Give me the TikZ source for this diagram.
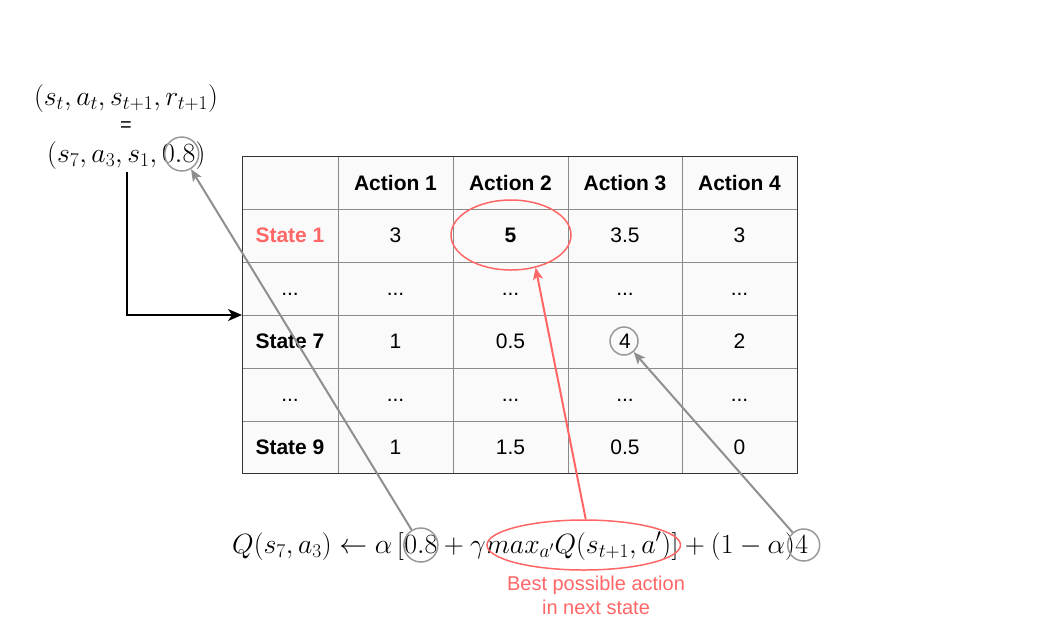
\RequirePackage{fix-cm}
\documentclass[tikz,border=0pt]{standalone}
\usepackage{fontspec}
\setsansfont{Liberation Sans}
\usetikzlibrary{shapes.geometric,arrows.meta,calc}
\definecolor{redc}{HTML}{FF6666}
\definecolor{grayl}{HTML}{8F8F8F}
\definecolor{grayc}{HTML}{999999}
\definecolor{tabfill}{HTML}{FAFAFA}
\definecolor{gridc}{HTML}{8A8A8A}
\definecolor{outerc}{HTML}{333333}
\begin{document}
\begin{tikzpicture}[x=1pt,y=-1pt,
  cell/.style={font=\fontsize{21}{25}\selectfont\sffamily, inner sep=0, anchor=base},
  hcell/.style={cell, font=\fontsize{21}{25}\selectfont\sffamily\bfseries},
  mth/.style={inner sep=0, font=\fontsize{27.8}{32}\selectfont, anchor=base west},
  gcirc/.style={circle, draw=grayc, line width=1.5pt, minimum size=#1, inner sep=0},
  rell/.style={ellipse, draw=redc, line width=1.5pt, inner sep=0},
  garrow/.style={draw=grayl, line width=2pt, -{Stealth[length=12pt,width=10pt,inset=3pt]}},
  rarrow/.style={draw=redc, line width=2pt, -{Stealth[length=12pt,width=10pt,inset=3pt]}},
  barrow/.style={draw=black, line width=2pt, -{Stealth[length=14pt,width=12pt,inset=4pt]}},
  redtext/.style={font=\fontsize{20}{24}\selectfont\sffamily, text=redc, align=center, inner sep=0}
]
\useasboundingbox (0,0) rectangle (1040,630);

% table background and grid
\fill[tabfill] (242,156) rectangle (797,473);
\foreach \x in {338,453,568,682} \draw[gridc, line width=0.8pt] (\x,156) -- (\x,473);
\foreach \y in {209,262,315,368,421} \draw[gridc, line width=0.8pt] (242,\y) -- (797,\y);
\draw[outerc, line width=1pt] (242,156) rectangle (797,473);

% header row
\node[hcell] (h1) at (395.5,190) {Action 1};
\node[hcell] (h2) at (510.5,190) {Action 2};
\node[hcell] (h3) at (625,190) {Action 3};
\node[hcell] (h4) at (739.5,190) {Action 4};
% row state 1
\node[hcell, text=redc] (s1) at (290,242.8) {State 1};
\node[cell] (v11) at (395.5,242.8) {3};
\node[hcell] (v12) at (510.5,242.8) {5};
\node[cell] (v13) at (625,242.8) {3.5};
\node[cell] (v14) at (739.5,242.8) {3};
% dots row
\node[cell] (d10) at (290,295.6) {...};
\node[cell] (d11) at (395.5,295.6) {...};
\node[cell] (d12) at (510.5,295.6) {...};
\node[cell] (d13) at (625,295.6) {...};
\node[cell] (d14) at (739.5,295.6) {...};
% row state 7
\node[hcell] (s7) at (290,348.4) {State 7};
\node[cell] (v71) at (395.5,348.4) {1};
\node[cell] (v72) at (510.5,348.4) {0.5};
\node[cell] (v73) at (625,348.4) {4};
\node[cell] (v74) at (739.5,348.4) {2};
% dots row
\node[cell] (d20) at (290,401.2) {...};
\node[cell] (d21) at (395.5,401.2) {...};
\node[cell] (d22) at (510.5,401.2) {...};
\node[cell] (d23) at (625,401.2) {...};
\node[cell] (d24) at (739.5,401.2) {...};
% row state 9
\node[hcell] (s9) at (290,454) {State 9};
\node[cell] (v91) at (395.5,454) {1};
\node[cell] (v92) at (510.5,454) {1.5};
\node[cell] (v93) at (625,454) {0.5};
\node[cell] (v94) at (739.5,454) {0};

% highlight marks in table
\node[rell, minimum width=120pt, minimum height=70pt] (e5) at (511,235) {};
\node[gcirc=28pt] (c4t) at (624,341) {};

% tuple at top left
\node[inner sep=0, font=\fontsize{27.8}{32}\selectfont, anchor=base] (t1) at (126,105) {$(s_t,a_t,s_{t+1},r_{t+1})$};
\node[inner sep=0, font=\fontsize{20}{24}\selectfont\sffamily, anchor=base] (teq) at (126,131) {=};
\node[mth] (tA) at (47,162) {$(s_7,a_3,s_1,\,$};
\node[mth] (tB) at (tA.base east) {$0.8$};
\node[mth] (tC) at (tB.base east) {$)$};
\node[gcirc=34pt] (c08t) at ($(tB.base)+(3,-8)$) {};

% formula at bottom
\node[mth] (f1) at (232,553) {$Q(s_7,a_3)\leftarrow\alpha\,[$};
\node[mth] (f2) at (f1.base east) {$0.8$};
\node[mth] (f3) at (f2.base east) {${}+\gamma$};
\node[mth] (f4) at (f3.base east) {$max_{a'}Q(s_{t+1},a')$};
\node[mth] (f5) at (f4.base east) {$]+(1-\alpha)$};
\node[mth] (f6) at (f5.base east) {$4$};
\node[gcirc=34pt] (c08f) at ($(f2.base)+(0,-8)$) {};
\node[gcirc=32pt] (c4f) at ($(f6.base)+(2,-8)$) {};
\path let \p1=($(f4.east)-(f4.west)$) in
  node[rell, minimum width=\x1+8pt, minimum height=50pt] (ef) at ($(f4.base)+(5,-8)$) {};

\node[redtext] (best) at (596,595) {Best possible action\\in next state};

% connectors
\coordinate (bk1) at (127,172);
\coordinate (tblL) at (242,315);
\draw[barrow] (bk1) |- (tblL);
\draw[garrow] (c08f) -- (c08t);
\draw[garrow] (c4f) -- (c4t);
\draw[rarrow] ([xshift=2pt]ef.north) -- (e5.-53);
\end{tikzpicture}
\end{document}
